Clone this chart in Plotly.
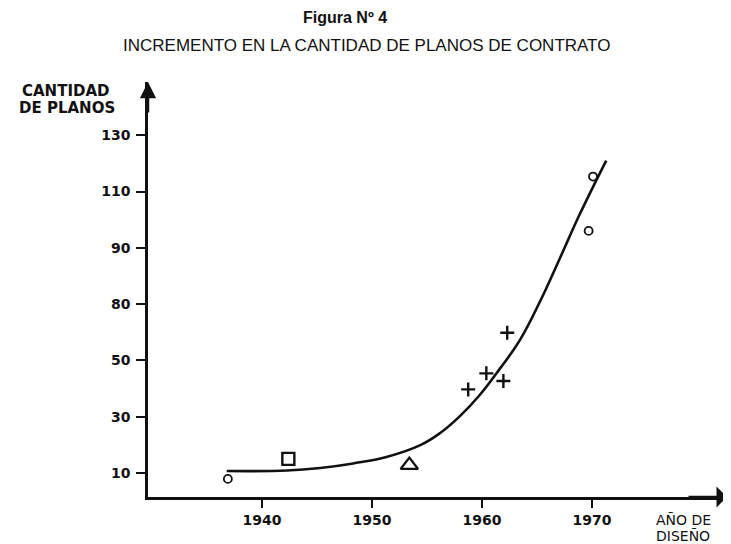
import plotly.graph_objects as go

# ---- data ----
years_ticks = [1940, 1950, 1960, 1970]
y_tickvals = [10, 30, 50, 70, 90, 110, 130]
y_ticktext = ["10", "30", "50", "80", "90", "110", "130"]

circle_years = [1936.9, 1969.7, 1970.1]
circle_vals = [7.9, 96.0, 115.3]
square_years = [1942.4]
square_vals = [15.0]
triangle_years = [1953.4]
triangle_vals = [12.8]
cross_years = [1958.75, 1960.4, 1961.95, 1962.3]
cross_vals = [39.7, 45.4, 42.7, 59.8]

curve_years = [1936.8, 1942.3, 1945.3, 1948.3, 1951.4, 1954.4, 1956.2, 1958.0,
               1959.8, 1961.6, 1963.45, 1965.3, 1967.1, 1968.9, 1971.3]
curve_vals = [10.7, 10.9, 11.8, 13.4, 15.8, 19.9, 24.2, 30.2,
              37.7, 46.9, 57.2, 71.1, 86.4, 102.0, 121.0]

title = "Figura Nº 4"
subtitle = "INCREMENTO EN LA CANTIDAD DE PLANOS DE CONTRATO"
y_title_lines = ["CANTIDAD", "DE PLANOS"]
x_title_lines = ["AÑO DE", "DISEÑO"]

X_RANGE = [1929.64, 1982.28]
Y_RANGE = [1.47, 148.9]

SANS = "Liberation Sans, Arial, sans-serif"
WIDE = "DejaVu Sans, Verdana, sans-serif"
BLACK = "#111111"

# the page body adds an 8px offset; target layout in reference pixels
OFF = 8
PL, PR, PT, PB = 148, 727, 82, 497  # plot area in reference pixels
W, H = 731 - OFF, 544 - OFF

fig = go.Figure()

fig.add_trace(go.Scatter(x=curve_years, y=curve_vals, mode="lines",
                         line=dict(color=BLACK, width=2.6, shape="spline", smoothing=1.2),
                         hoverinfo="skip", showlegend=False))
fig.add_trace(go.Scatter(x=circle_years, y=circle_vals, mode="markers",
                         marker=dict(symbol="circle-open", size=8, color=BLACK,
                                     line=dict(width=1.8, color=BLACK)),
                         showlegend=False))
fig.add_trace(go.Scatter(x=square_years, y=square_vals, mode="markers",
                         marker=dict(symbol="square-open", size=12, color=BLACK,
                                     line=dict(width=2.4, color=BLACK)),
                         showlegend=False))
fig.add_trace(go.Scatter(x=triangle_years, y=triangle_vals, mode="markers",
                         marker=dict(symbol="triangle-up-open", size=15, color=BLACK,
                                     line=dict(width=2.4, color=BLACK)),
                         showlegend=False))
fig.add_trace(go.Scatter(x=cross_years, y=cross_vals, mode="markers",
                         marker=dict(symbol="cross-thin", size=10, color=BLACK,
                                     line=dict(width=2.4, color=BLACK)),
                         showlegend=False))

fig.update_layout(
    width=W, height=H,
    margin=dict(l=PL - OFF, r=731 - PR, t=PT - OFF, b=544 - PB),
    paper_bgcolor="white", plot_bgcolor="white",
    font=dict(family=SANS, color=BLACK),
    xaxis=dict(range=X_RANGE, showgrid=False, zeroline=False,
               showline=True, linecolor=BLACK, linewidth=2.5,
               ticks="outside", ticklen=8, tickwidth=2.2, tickcolor=BLACK,
               tickvals=years_ticks, ticktext=[str(v) for v in years_ticks],
               tickfont=dict(size=14, family=WIDE, weight="bold", color=BLACK)),
    yaxis=dict(range=Y_RANGE, showgrid=False, zeroline=False,
               showline=True, linecolor=BLACK, linewidth=2.5,
               ticks="outside", ticklen=9, tickwidth=2.2, tickcolor=BLACK,
               tickvals=y_tickvals, ticktext=y_ticktext, ticklabelstandoff=3,
               tickfont=dict(size=14, family=WIDE, weight="bold", color=BLACK)),
)

# axis arrowheads
fig.add_annotation(x=X_RANGE[0], y=Y_RANGE[1], xref="x", yref="y",
                   ax=0, ay=32, showarrow=True, arrowhead=2, arrowsize=1.3,
                   arrowwidth=2.5, arrowcolor=BLACK, text="")
fig.add_annotation(x=X_RANGE[1], y=Y_RANGE[0], xref="x", yref="y",
                   ax=-40, ay=0, showarrow=True, arrowhead=1, arrowsize=1.4,
                   arrowwidth=2.5, arrowcolor=BLACK, text="")

pw, ph = PR - PL, PB - PT


def text_at(px, py, txt, size, family, weight="normal"):
    fig.add_annotation(x=(px - PL) / pw, y=(PB - py) / ph, xref="paper", yref="paper",
                       text=txt, showarrow=False, xanchor="center", yanchor="middle",
                       font=dict(size=size, family=family, weight=weight, color=BLACK))


text_at(345, 18, title, 16, SANS, "bold")
text_at(366, 46, subtitle, 17, SANS)
text_at(66, 91, y_title_lines[0], 15, WIDE, "bold")
text_at(67, 108, y_title_lines[1], 15, WIDE, "bold")
text_at(683, 520, x_title_lines[0], 14, WIDE)
text_at(683, 536, x_title_lines[1], 14, WIDE)

fig.write_html("out.html")
